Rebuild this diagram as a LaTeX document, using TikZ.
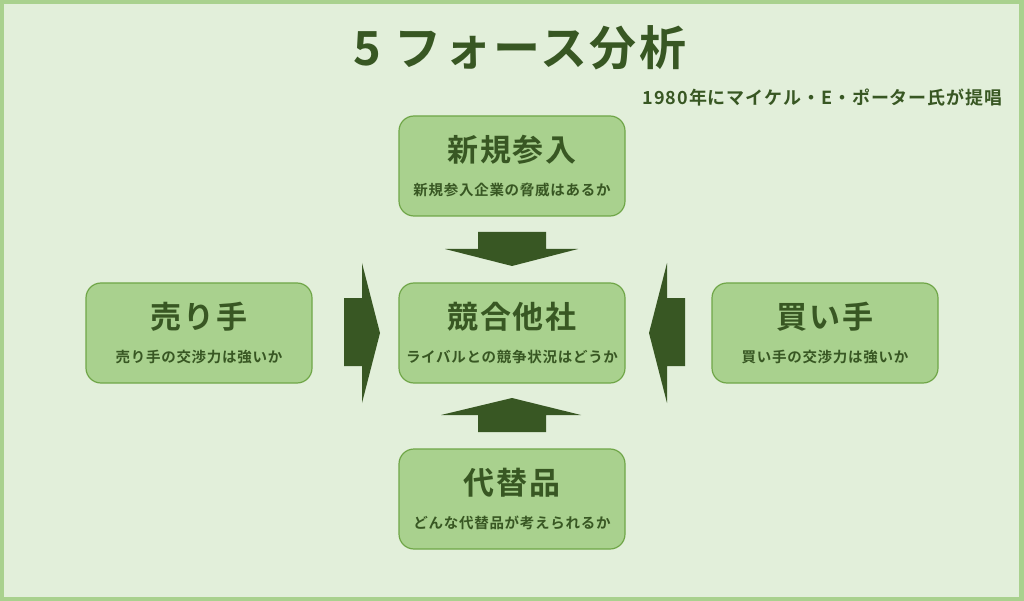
\documentclass[tikz,border=0pt]{standalone}
\usepackage{fontspec}
\usepackage{tikz}
\usetikzlibrary{calc}
\newfontfamily\jp{Noto Sans CJK JP Bold}[LetterSpace=5]
\definecolor{Bg}{RGB}{226, 239, 218}
\definecolor{Leaf}{RGB}{169, 209, 142}
\definecolor{Rim}{RGB}{112, 166, 72}
\definecolor{Moss}{RGB}{56, 87, 35}

\begin{document}
\begin{tikzpicture}[x=1pt,y=-1pt,
    force/.style={draw=Rim, line width=1.2pt, fill=Leaf, rounded corners=15pt, minimum width=226pt, minimum height=100pt},
    head/.style={text=Moss, font=\jp\fontsize{31}{31}\selectfont},
    sub/.style={text=Moss, font=\jp\fontsize{14.5}{14.5}\selectfont},
    push/.style={fill=Moss, draw=none}]
    % frame and background
    \fill[Leaf] (0,0) rectangle (1024,601);
    \fill[Bg] (4,4) rectangle (1019,597);
    \useasboundingbox (0,0) rectangle (1024,601);

    \node[text=Moss, font=\jp\fontsize{47}{47}\selectfont] (title) at (520,48) {5 フォース分析};
    \node[text=Moss, font=\jp\fontsize{18}{18}\selectfont, anchor=east] (origin) at (1006,98) {1980年にマイケル・E・ポーター氏が提唱};

    % the five boxes
    \node[force] (entry) at (512,166) {};
    \node[force] (rival) at (512,333) {};
    \node[force] (seller) at (199,333) {};
    \node[force] (buyer) at (825,333) {};
    \node[force] (subst) at (512,499) {};

    \foreach \n/\h/\s in {entry/新規参入/新規参入企業の脅威はあるか,
                          rival/競合他社/ライバルとの競争状況はどうか,
                          seller/売り手/売り手の交渉力は強いか,
                          buyer/買い手/買い手の交渉力は強いか,
                          subst/代替品/どんな代替品が考えられるか}
    {
    \node[head] (\n-h) at ($(\n.center)+(0,-16)$) {\h};
    \node[sub] (\n-s) at ($(\n.center)+(0,24)$) {\s};
    }

    % arrows towards the rivals
    \draw[push] (478,232) to (546,232) to (546,249) to (578,249) to (512,266) to (445,249) to (478,249) to cycle;
    \draw[push] (478,432) to (546,432) to (546,415) to (581,415) to (512,398) to (441,415) to (478,415) to cycle;
    \draw[push] (344,298) to (362,298) to (362,263) to (380,333) to (362,403) to (362,366) to (344,366) to cycle;
    \draw[push] (685,298) to (667,298) to (667,263) to (649,333) to (667,403) to (667,366) to (685,366) to cycle;
\end{tikzpicture}
\end{document}
